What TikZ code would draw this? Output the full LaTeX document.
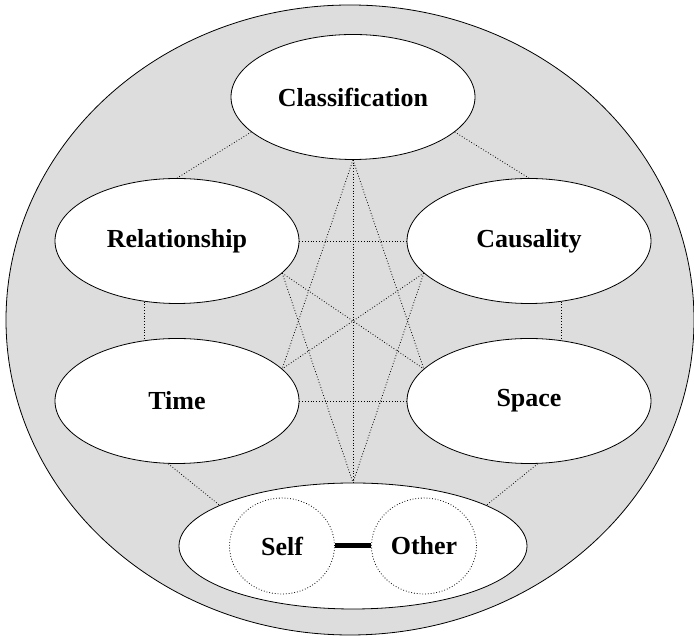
\documentclass[tikz,border=0pt]{standalone}
\usepackage{fontspec}
\setmainfont{Liberation Serif}
\usepackage{xcolor}
\usetikzlibrary{shapes.geometric}
\definecolor{ringgray}{RGB}{221,221,221}

\begin{document}
\begin{tikzpicture}[x=1pt,y=1pt,
    topic/.style={ellipse, draw, line width=0.8pt, fill=white, minimum width=244pt, minimum height=125pt, inner sep=0pt, font=\fontsize{26}{30}\selectfont\bfseries},
    link/.style={dotted, line width=0.8pt, black},
    partner/.style={ellipse, draw, dotted, line width=0.8pt, minimum width=105pt, minimum height=96pt, inner sep=0pt, font=\fontsize{26}{30}\selectfont\bfseries}]
    \useasboundingbox (0,0) rectangle (694,636);
    % outer disc
    \filldraw[fill=ringgray, line width=0.8pt] (350,316) ellipse[x radius=344, y radius=315];
    % the six themes
    \node[topic] (cls) at (353,539) {Classification};
    \node[topic] (rel) at (177,395) {Relationship};
    \node[topic] (cau) at (529,395) {Causality};
    \node[topic] (tim) at (177,235) {Time};
    \node[topic] (spa) at (529,235) {Space};
    \node[topic, minimum width=348pt, minimum height=126pt] (bot) at (353,90) {};
    \node[partner] (self) at (282,90) {Self};
    \node[partner] (other) at (424,90) {Other};
    \draw[line width=5pt] (self) -- (other);
    % dotted links between every pair
    \draw[link] (cls.199) -- (rel.north);
    \draw[link] (cls.-19) -- (cau.north);
    \draw[link] (cls.south) -- (bot.north);
    \draw[link] (cls.south) -- (tim.17);
    \draw[link] (cls.south) -- (spa.163);
    \draw[link] (rel.east) -- (cau.west);
    \draw[link] (tim.east) -- (spa.west);
    \draw[link] (rel.-17) -- (spa.163);
    \draw[link] (cau.197) -- (tim.17);
    \draw[link] (rel.-17) -- (bot.north);
    \draw[link] (cau.197) -- (bot.north);
    \draw[link] (rel.242) -- (tim.118);
    \draw[link] (cau.298) -- (spa.62);
    \draw[link] (tim.262) -- (bot.163);
    \draw[link] (spa.278) -- (bot.17);
\end{tikzpicture}
\end{document}
